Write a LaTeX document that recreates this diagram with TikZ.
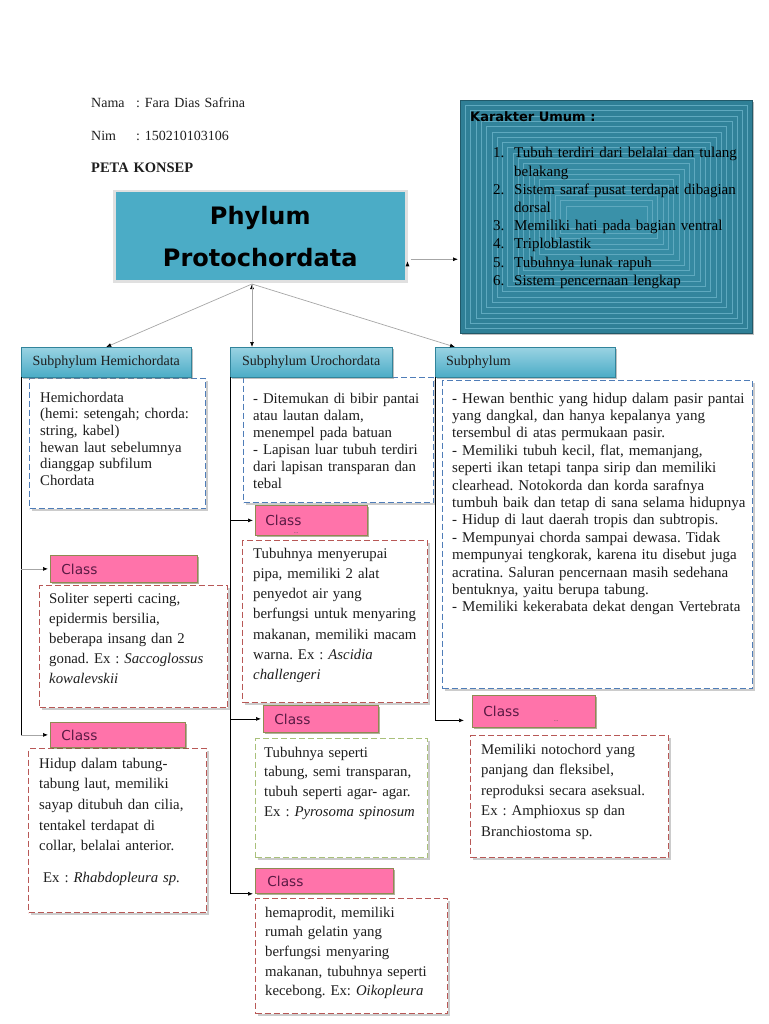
\documentclass[tikz,border=0pt]{standalone}
\usepackage{fontspec}
\setmainfont{Liberation Serif}
\newfontfamily\headfont{DejaVu Sans}
\usepackage{tikz}
\usetikzlibrary{arrows.meta}
\usetikzlibrary{shadows}
\definecolor{phylumblue}{HTML}{4BACC6}
\definecolor{karakterteal}{HTML}{2F7F96}
\definecolor{karakterline}{HTML}{5FA9BF}
\definecolor{subtop}{HTML}{9AD3E3}
\definecolor{subedge}{HTML}{31849B}
\definecolor{classpink}{HTML}{FF73AA}
\definecolor{classedge}{HTML}{8E8A52}
\definecolor{classtext}{HTML}{5A1A44}
\definecolor{dashblue}{HTML}{4F7DB8}
\definecolor{dashred}{HTML}{B85856}
\definecolor{dashgreen}{HTML}{A9C07A}
\definecolor{linkgray}{HTML}{A6A6A6}
\definecolor{inktext}{HTML}{1E1E1E}
\frenchspacing

\begin{document}
\begin{tikzpicture}[x=1pt,y=-1pt,
    phylumbox/.style={anchor=north west, minimum width=292pt, minimum height=90pt, inner sep=0pt,
      fill=phylumblue, draw=black!12, line width=2.5pt, text width=280pt, align=center,
      font=\headfont\bfseries\fontsize{24}{42}\selectfont,
      drop shadow={shadow xshift=1.5pt, shadow yshift=-1.5pt, fill=black!65}},
    karakterbox/.style={anchor=north west, minimum width=292pt, minimum height=233pt, inner sep=0pt,
      fill=karakterteal, draw=karakterteal!70!black, line width=1pt,
      drop shadow={shadow xshift=1.5pt, shadow yshift=-1.5pt, fill=black!50}},
    subhead/.style={anchor=north west, minimum height=30pt, inner xsep=11pt, inner ysep=0pt,
      draw=subedge, top color=subtop, bottom color=phylumblue, text=inktext,
      font=\fontsize{14}{16}\selectfont,
      drop shadow={shadow xshift=2pt, shadow yshift=-2pt, fill=black!50}},
    classhead/.style={anchor=north west, inner xsep=11pt, inner ysep=0pt,
      draw=classedge, line width=0.8pt, fill=classpink, text=classtext, align=left,
      font=\headfont\fontsize{13.7}{16}\selectfont,
      drop shadow={shadow xshift=2pt, shadow yshift=-2pt, fill=classedge!70!black}},
    notebox/.style={anchor=north west, inner sep=0pt, draw=#1, dash pattern=on 6pt off 3pt,
      line width=1.3pt, fill=white,
      drop shadow={shadow xshift=2pt, shadow yshift=-2pt, fill=black!40}},
    note/.style={anchor=base west, inner sep=0pt, text width=300pt, align=left, text=inktext,
      font=\fontsize{14.8}{#1}\selectfont},
    dots/.style={inner sep=0pt, text=black!70, font=\fontsize{6}{7}\selectfont},
    link/.style={draw=linkgray, line width=0.7pt, -{Latex[length=5pt,width=4pt,color=black]}},
    trunk/.style={draw=black, line width=0.8pt},
    twig/.style={draw=black, line width=0.7pt, shorten >=2pt, -{Latex[length=5pt,width=4pt]}},
    graytwig/.style={link, shorten >=2pt}
  ]
  \useasboundingbox (0,0) rectangle (768,1024);

  \node[note=17, font=\fontsize{14}{17}\selectfont] (nama) at (91,108) {\makebox[45pt][l]{Nama}: Fara Dias Safrina};
  \node[note=17, font=\fontsize{14}{17}\selectfont] (nim) at (91,141) {\makebox[45pt][l]{Nim}: 150210103106};
  \node[note=17, font=\bfseries\fontsize{14.5}{17}\selectfont] (peta) at (91,173) {PETA KONSEP};

  \node[phylumbox] (phylum) at (113,190) {Phylum\\Protochordata};

  \node[karakterbox] (karakter) at (460,100) {};
  \foreach \k [evaluate=\k as \mix using int(2*\k)] in {1,...,20}
    \draw[karakterline, line width=0.5pt, fill=phylumblue!\mix!karakterteal]
      ([shift={(5.3*\k,5.3*\k)}]karakter.north west) rectangle ([shift={(-5.3*\k,-5.3*\k)}]karakter.south east);
  \node[anchor=base west, inner sep=0pt, font=\headfont\bfseries\fontsize{13}{15}\selectfont] (umum) at (470,122) {Karakter Umum :};
  \node[note=18.2, font=\fontsize{15}{18.2}\selectfont, text=black] (ciri) at (493,158) {%
    \makebox[21pt][l]{1.}Tubuh terdiri dari belalai dan tulang\\
    \hspace*{21pt}belakang\\
    \makebox[21pt][l]{2.}Sistem saraf pusat terdapat dibagian\\
    \hspace*{21pt}dorsal\\
    \makebox[21pt][l]{3.}Memiliki hati pada bagian ventral\\
    \makebox[21pt][l]{4.}Triploblastik\\
    \makebox[21pt][l]{5.}Tubuhnya lunak rapuh\\
    \makebox[21pt][l]{6.}Sistem pencernaan lengkap};

  \path[link, shorten <=3pt, shorten >=2pt] ([yshift=-23pt]phylum.east) edge ([yshift=-23pt]phylum.east -| karakter.west);

  \node[notebox=dashblue, minimum width=176pt, minimum height=130pt] (hemiNote) at (29,378) {};
  \node[notebox=dashblue, minimum width=190pt, minimum height=125pt] (uroNote) at (243,377) {};
  \node[notebox=dashblue, minimum width=310pt, minimum height=308pt] (cephNote) at (442,380) {};

  \node[subhead, minimum width=170pt] (hemi) at (21,347) {Subphylum Hemichordata};
  \node[subhead, minimum width=162pt] (uro) at (230,347) {Subphylum Urochordata};
  \node[subhead, minimum width=180pt, text width=158pt] (ceph) at (435,347) {Subphylum};

  \coordinate (split) at (252,284);
  \path[link]
    (split) edge (hemi.north)
    (split) edge (split |- uro.north)
    (split) edge ([xshift=20pt]ceph.north west);

  \node[note=16.7] (hemiTxt) at (40,402) {Hemichordata\\
    (hemi: setengah; chorda:\\
    string, kabel)\\
    hewan laut sebelumnya\\
    dianggap subfilum\\
    Chordata};
  \node[note=17] (uroTxt) at (253,403) {- Ditemukan di bibir pantai\\
    atau lautan dalam,\\
    menempel pada batuan\\
    - Lapisan luar tubuh terdiri\\
    dari lapisan transparan dan\\
    tebal};
  \node[note=17.4, font=\fontsize{15}{17.4}\selectfont] (cephTxt) at (452,403) {- Hewan benthic yang hidup dalam pasir pantai\\
    yang dangkal, dan hanya kepalanya yang\\
    tersembul di atas permukaan pasir.\\
    - Memiliki tubuh kecil, flat, memanjang,\\
    seperti ikan tetapi tanpa sirip dan memiliki\\
    clearhead. Notokorda dan korda sarafnya\\
    tumbuh baik dan tetap di sana selama hidupnya\\
    - Hidup di laut daerah tropis dan subtropis.\\
    - Mempunyai chorda sampai dewasa. Tidak\\
    mempunyai tengkorak, karena itu disebut juga\\
    acratina. Saluran pencernaan masih sedehana\\
    bentuknya, yaitu berupa tabung.\\
    - Memiliki kekerabata dekat dengan Vertebrata};

  \node[notebox=dashred, minimum width=188pt, minimum height=122pt] (hemiN1) at (39,585) {};
  \node[notebox=dashred, minimum width=178pt, minimum height=164pt] (hemiN2) at (28,748) {};
  \node[notebox=dashred, minimum width=185pt, minimum height=162pt] (uroN1) at (242,540) {};
  \node[notebox=dashgreen, minimum width=172pt, minimum height=119pt] (uroN2) at (255,738) {};
  \node[notebox=dashred, minimum width=192pt, minimum height=115pt] (uroN3) at (255,898) {};
  \node[notebox=dashred, minimum width=198pt, minimum height=122pt] (cephN1) at (470,735) {};

  \node[classhead, minimum width=147pt, minimum height=27pt, text width=125pt] (hemiC1) at (50,555) {Class};
  \node[classhead, minimum width=135pt, minimum height=25pt, text width=113pt] (hemiC2) at (50,722) {Class};
  \node[classhead, minimum width=112pt, minimum height=30pt, text width=92pt, inner xsep=10pt] (uroC1) at (255,505) {Class};
  \node[classhead, minimum width=115pt, minimum height=27pt, text width=93pt] (uroC2) at (263,705) {Class};
  \node[classhead, minimum width=138pt, minimum height=25pt, text width=114pt, inner xsep=12pt] (uroC3) at (255,868) {Class};
  \node[classhead, minimum width=123pt, minimum height=32pt, text width=101pt] (cephC) at (472,695) {Class};
  \node[dots] (uroDots) at (296,533) {...};
  \node[dots] (cephDots) at (556,721) {...};

  \draw[trunk] (hemi.south west) -- (hemi.south west |- hemiC2.west);
  \draw[graytwig] (hemi.south west |- hemiC1.west) -- (hemiC1.west);
  \draw[graytwig] (hemi.south west |- hemiC2.west) -- (hemiC2.west);
  \draw[trunk] (uro.south west) -- (uro.south west |- uroC3.south west);
  \draw[twig] (uro.south west |- uroC1.west) -- (uroC1.west);
  \draw[twig] (uro.south west |- uroC2.west) -- (uroC2.west);
  \draw[twig] (uro.south west |- uroC3.south west) -- (uroC3.south west);
  \draw[twig, shorten >=8pt] (ceph.south west) |- ([yshift=-9pt]cephC.west);

  \node[note=20] (hemiN1Txt) at (49,603) {Soliter seperti cacing,\\
    epidermis bersilia,\\
    beberapa insang dan 2\\
    gonad. Ex : \textit{Saccoglossus}\\
    \textit{kowalevskii}};
  \node[note=20.7] (hemiN2Txt) at (39,768) {Hidup dalam tabung-\\
    tabung laut, memiliki\\
    sayap ditubuh dan cilia,\\
    tentakel terdapat di\\
    collar, belalai anterior.\\[11pt]
    \hspace*{4pt}Ex : \textit{Rhabdopleura sp.}};
  \node[note=20.3] (uroN1Txt) at (253,558) {Tubuhnya menyerupai\\
    pipa, memiliki 2 alat\\
    penyedot air yang\\
    berfungsi untuk menyaring\\
    makanan, memiliki macam\\
    warna. Ex : \textit{Ascidia}\\
    \textit{challengeri}};
  \node[note=19.7] (uroN2Txt) at (264,757) {Tubuhnya seperti\\
    tabung, semi transparan,\\
    tubuh seperti agar- agar.\\
    Ex : \textit{Pyrosoma spinosum}};
  \node[note=19.7] (uroN3Txt) at (265,917) {hemaprodit, memiliki\\
    rumah gelatin yang\\
    berfungsi menyaring\\
    makanan, tubuhnya seperti\\
    kecebong. Ex: \textit{Oikopleura}};
  \node[note=20.5] (cephN1Txt) at (481,754) {Memiliki notochord yang\\
    panjang dan fleksibel,\\
    reproduksi secara aseksual.\\
    Ex : Amphioxus sp dan\\
    Branchiostoma sp.};
\end{tikzpicture}
\end{document}
